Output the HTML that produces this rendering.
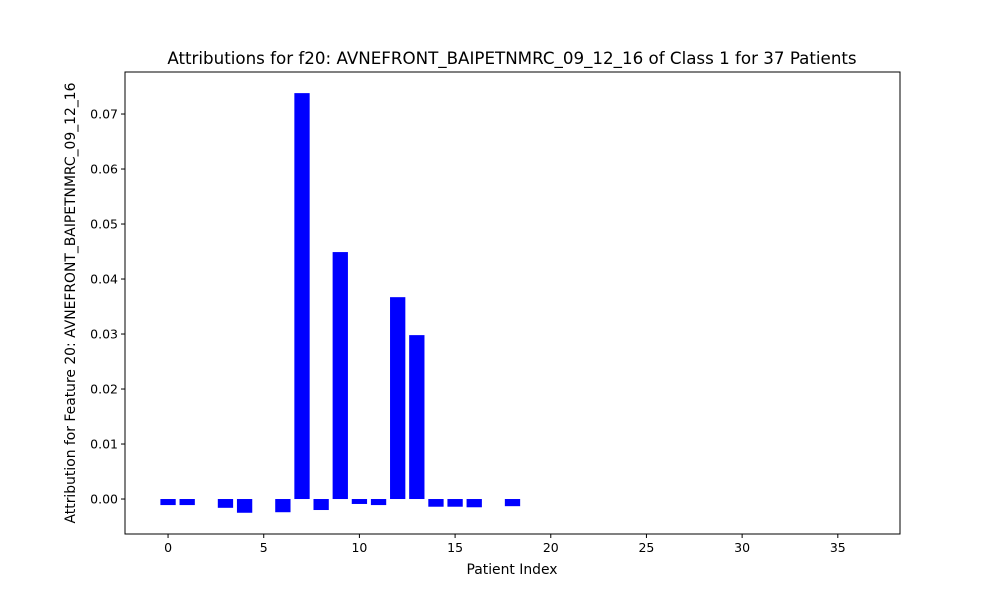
<!DOCTYPE html>
<html><head><meta charset="utf-8"><style>body{margin:0;background:#fff}svg text{font-family:"DejaVu Sans","Liberation Sans",sans-serif;fill:#000}</style></head>
<body>
<svg id="chart" width="1000" height="600">
<rect width="1000" height="600" fill="#fff"/>
<text x="512" y="64" font-size="16.7" text-anchor="middle">Attributions for f20: AVNEFRONT_BAIPETNMRC_09_12_16 of Class 1 for 37 Patients</text>
<g id="bars"></g><g id="axes"></g>
<text x="512" y="574" font-size="13.9" text-anchor="middle">Patient Index</text>
<text transform="translate(75,303) rotate(-90)" font-size="13.9" text-anchor="middle">Attribution for Feature 20: AVNEFRONT_BAIPETNMRC_09_12_16</text>
</svg>
<script>
const values=[-0.0011,-0.0011,0,-0.0016,-0.0025,0,-0.0024,0.0738,-0.0020,0.0449,-0.0009,-0.0011,0.0367,0.0298,-0.0014,-0.0014,-0.0015,0,-0.0013,0,0,0,0,0,0,0,0,0,0,0,0,0,0,0,0,0,0];
const xTicks=[0,5,10,15,20,25,30,35];
const yTicks=[0,0.01,0.02,0.03,0.04,0.05,0.06,0.07];
const L=125,R=900,T=72,B=534,xmin=-2.25,xmax=38.25,ymin=-0.00636,ymax=0.07764;
const sx=v=>L+(v-xmin)/(xmax-xmin)*(R-L), sy=v=>B-(v-ymin)/(ymax-ymin)*(B-T);
const NS="http://www.w3.org/2000/svg";
const bars=document.getElementById('bars'),axes=document.getElementById('axes');
values.forEach((v,i)=>{if(v===0)return;const r=document.createElementNS(NS,'rect');
r.setAttribute('x',sx(i-0.4));r.setAttribute('width',sx(i+0.4)-sx(i-0.4));
r.setAttribute('y',Math.min(sy(v),sy(0)));r.setAttribute('height',Math.abs(sy(v)-sy(0)));r.setAttribute('fill','#0000ff');


bars.appendChild(r);});
let h='<rect x="'+L+'" y="'+T+'" width="'+(R-L)+'" height="'+(B-T)+'" fill="none" stroke="#000" stroke-width="1"/>';
xTicks.forEach(t=>{const x=sx(t);h+=`<line x1="${x}" x2="${x}" y1="${B}" y2="${B+4}" stroke="#000"/><text x="${x}" y="${B+18}" font-size="12.5" text-anchor="middle">${t}</text>`;});
yTicks.forEach(t=>{const y=sy(t);h+=`<line x1="${L-4}" x2="${L}" y1="${y}" y2="${y}" stroke="#000"/><text x="${L-7}" y="${y+4.5}" font-size="12.5" text-anchor="end">${t.toFixed(2)}</text>`;});
axes.innerHTML=h;


</script>
</body></html>
